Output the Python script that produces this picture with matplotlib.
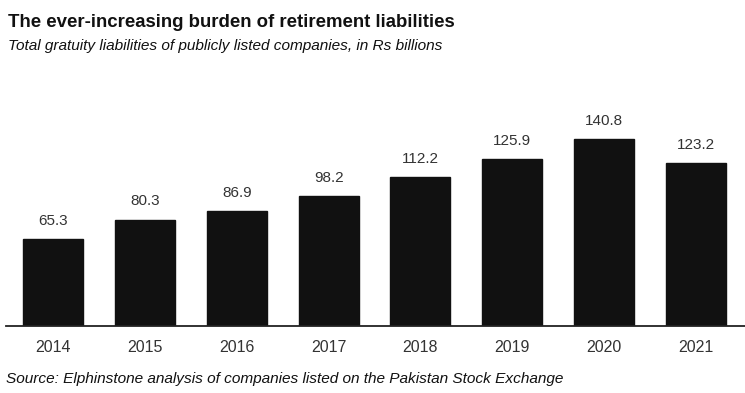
import matplotlib
matplotlib.use("Agg")
import matplotlib.pyplot as plt
from matplotlib import font_manager

plt.rcParams['font.family'] = ['Liberation Sans', 'DejaVu Sans']

# data
years = ['2014', '2015', '2016', '2017', '2018', '2019', '2020', '2021']
liabilities = [65.3, 80.3, 86.9, 98.2, 112.2, 125.9, 140.8, 123.2]

names = set(f.name for f in font_manager.fontManager.ttflist)
tick_font = 'Liberation Sans Narrow' if 'Liberation Sans Narrow' in names else 'Liberation Sans'

fig = plt.figure(figsize=(7.45, 3.93), dpi=100)
ax = fig.add_axes([0.0, 0.1705, 1.0, 0.60])

x = range(len(years))
ax.bar(x, liabilities, width=0.653, color='#111111', edgecolor='#111111')

for xi, v in zip(x, liabilities):
    ax.text(xi, v + 8.5, '%.1f' % v, ha='center', va='bottom', fontsize=11, color='#333333')

ax.set_xlim(-0.577, 7.533)
ax.set_ylim(0, 178)
ax.set_xticks(list(x))
ax.set_xticklabels(years, fontsize=11.5, color='#333333', family=tick_font)
ax.tick_params(axis='x', length=0, pad=10)
ax.set_yticks([])
for s in ['top', 'right', 'left']:
    ax.spines[s].set_visible(False)
ax.spines['bottom'].set_color('#222222')
ax.spines['bottom'].set_linewidth(1.3)
ax.spines['bottom'].set_bounds(-0.51, 7.533)

# titles
fig.text(0.011, 0.944, 'The ever-increasing burden of retirement liabilities',
         fontsize=13.4, fontweight='bold', color='#111111', va='center')
fig.text(0.011, 0.883, 'Total gratuity liabilities of publicly listed companies, in Rs billions',
         fontsize=11.1, style='italic', color='#111111', va='center')
fig.text(0.008, 0.036, 'Source: Elphinstone analysis of companies listed on the Pakistan Stock Exchange',
         fontsize=11.1, style='italic', color='#111111', va='center')

fig.savefig('out.png', dpi=100, facecolor='white')
